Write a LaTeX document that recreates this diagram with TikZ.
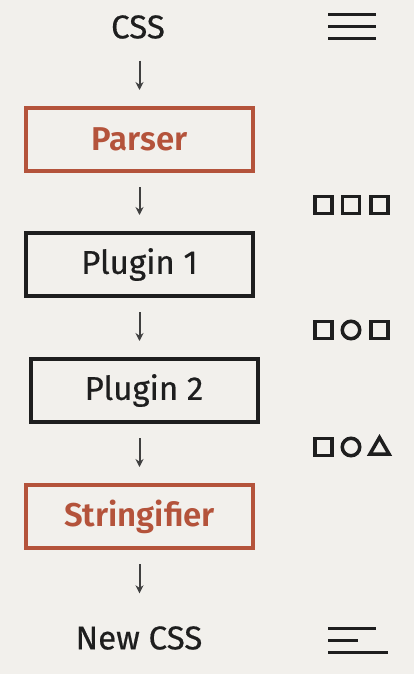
\documentclass[tikz,border=0pt]{standalone}
\usepackage{fontspec}
\setmainfont{Fira Sans}[UprightFeatures={FakeBold=0.5}, BoldFont=* SemiBold]
\usepackage{xcolor}
\usepackage{tikz}
\usetikzlibrary{shapes,arrows,positioning,calc,arrows.meta}

\definecolor{paper}{HTML}{F2F0EC}
\definecolor{rust}{HTML}{B4533B}
\definecolor{ink}{HTML}{1E1E1E}

\tikzset{
    stage/.style={draw=ink, line width=4pt, rectangle, minimum width=227pt, minimum height=63pt, text=ink, font=\fontsize{33}{38}\selectfont},
    corestage/.style={stage, draw=rust, text=rust, font=\fontsize{33}{38}\selectfont\bfseries},
    flow/.style={-{Stealth[length=8pt,width=8pt]}, line width=2pt, draw=ink!85, shorten <=14pt, shorten >=16pt},
    sqicon/.style={draw=ink, line width=3.5pt, rectangle, minimum size=17pt, inner sep=0pt},
    ciricon/.style={draw=ink, line width=3.5pt, circle, minimum size=17.5pt, inner sep=0pt},
    triicon/.style={draw=ink, line width=3.5pt, regular polygon, regular polygon sides=3, minimum size=22pt, inner sep=0pt},
    bars/.style={draw=ink, line width=3pt}
}

\begin{document}
\begin{tikzpicture}[x=1pt, y=-1pt]
    % Frame
    \fill[paper] (0,0) rectangle (414,674);

    % Input and Output
    \node[text=ink, font=\fontsize{33}{38}\selectfont, inner sep=0pt, minimum height=39pt] (css) at (138,27) {CSS};
    \node[text=ink, font=\fontsize{33}{38}\selectfont, inner sep=0pt, minimum height=57pt] (newcss) at (139,638) {New CSS};

    % Pipeline Stages
    \node[corestage] (parser) at (139.5,139.5) {Parser};
    \node[stage] (plugin1) at (139.5,264.5) {Plugin 1};
    \node[stage] (plugin2) at (144,390.5) {Plugin 2};
    \node[corestage] (stringifier) at (139.5,516.5) {Stringifier};

    % Connections
    \draw[flow] (parser.north |- css.south) -- (parser.north);
    \draw[flow] (parser.south) -- (parser.south |- plugin1.north);
    \draw[flow] (plugin1.south) -- (plugin1.south |- plugin2.north);
    \draw[flow] (plugin1.south |- plugin2.south) -- (plugin1.south |- stringifier.north);
    \draw[flow] (stringifier.south) -- (stringifier.south |- newcss.north);

    % Source text icon
    \coordinate (srcA) at (328,15);
    \coordinate (srcB) at (328,27);
    \coordinate (srcC) at (328,39);
    \draw[bars] (srcA) -- ++(48,0);
    \draw[bars] (srcB) -- ++(48,0);
    \draw[bars] (srcC) -- ++(48,0);

    % AST icons
    \node[sqicon] (astA1) at (323.5,205) {};
    \node[sqicon] (astA2) at (351,205) {};
    \node[sqicon] (astA3) at (379.5,205) {};

    \node[sqicon] (astB1) at (323.5,330) {};
    \node[ciricon] (astB2) at (351,330) {};
    \node[sqicon] (astB3) at (379.5,330) {};

    \node[sqicon] (astC1) at (323.5,447) {};
    \node[ciricon] (astC2) at (351,447) {};
    \node[triicon] (astC3) at (379.5,448.5) {};

    % Output text icon
    \coordinate (outA) at (328,628);
    \coordinate (outB) at (328,640);
    \coordinate (outC) at (328,652);
    \draw[bars] (outA) -- ++(48,0);
    \draw[bars] (outB) -- ++(30,0);
    \draw[bars] (outC) -- ++(60,0);
\end{tikzpicture}
\end{document}
